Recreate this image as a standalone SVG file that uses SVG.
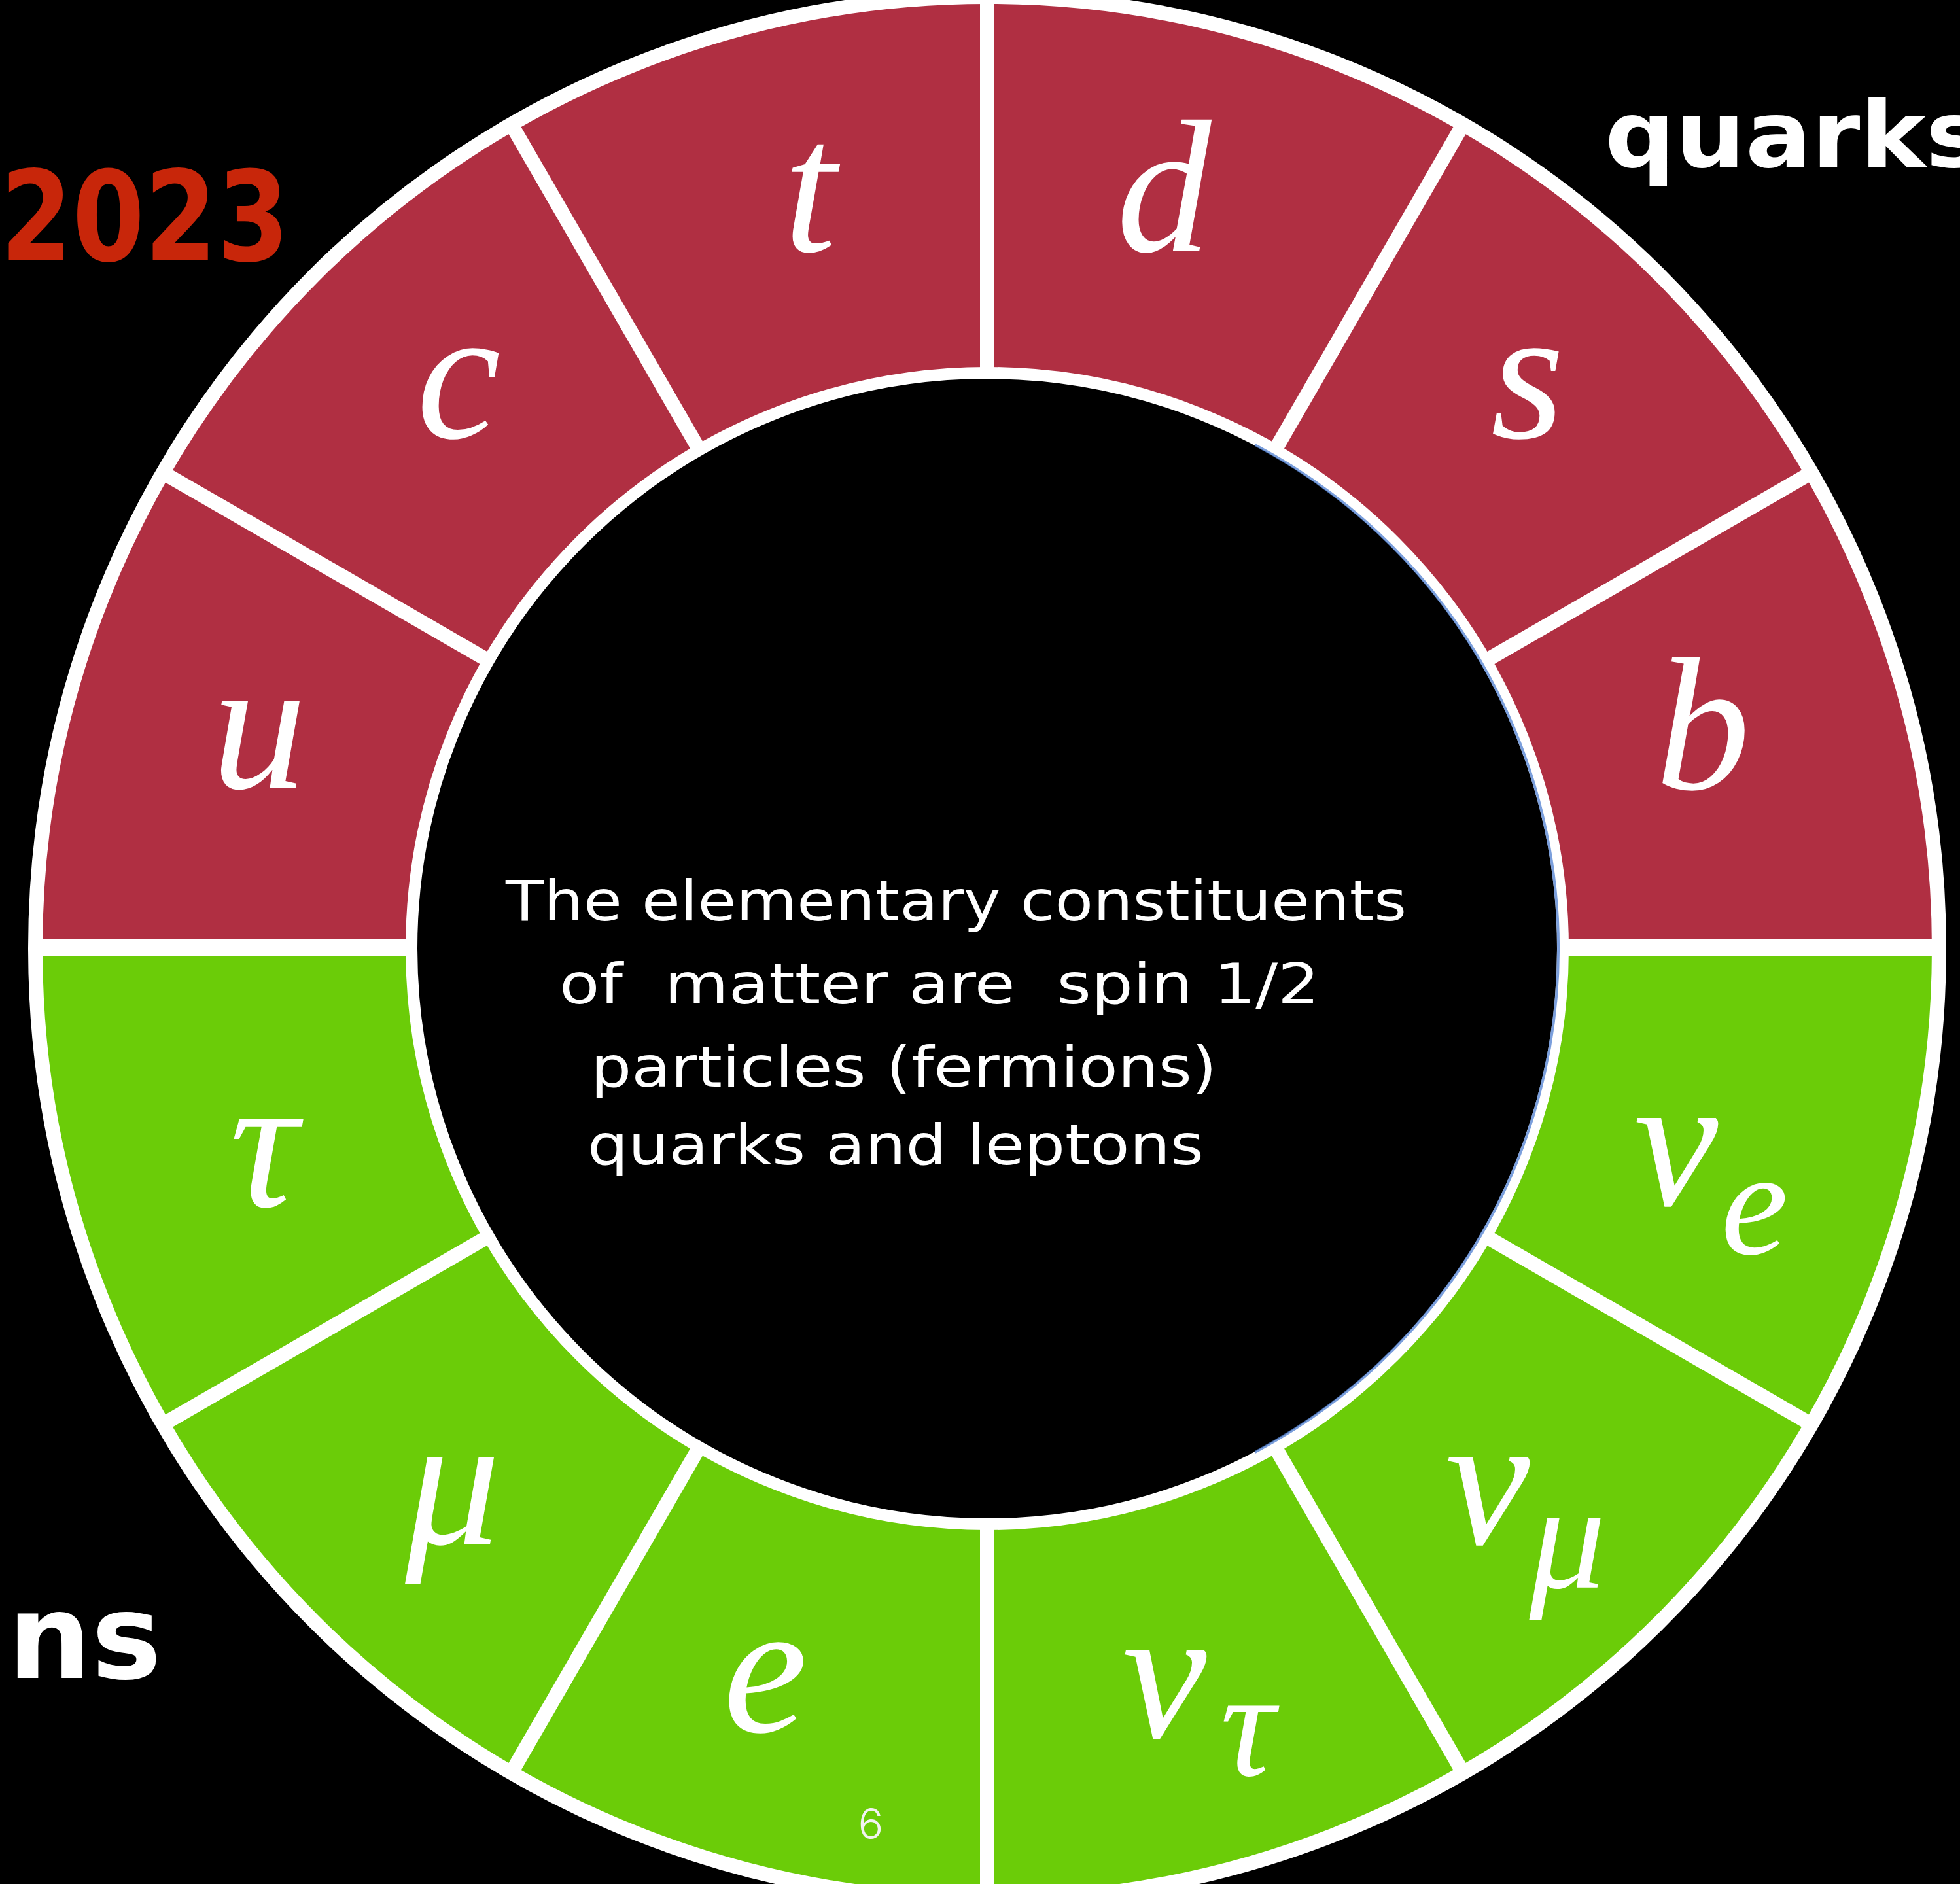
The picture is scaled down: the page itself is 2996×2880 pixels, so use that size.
<svg xmlns="http://www.w3.org/2000/svg" width="2996" height="2880" viewBox="0 0 2996 2880">
  <style>
    .red { fill: #B02F42; }
    .green { fill: #6BCC08; }
    .lbl { font-family: "Liberation Serif", "Times New Roman", serif; font-style: italic; font-size: 290px; fill: #FFFFFF; text-anchor: middle; }
    .sub { font-size: 232px; }
    .div { stroke: #FFFFFF; stroke-width: 22; fill: none; }
    .chalk { font-family: "DejaVu Sans", "Liberation Sans", sans-serif; fill: #FFFFFF; }
    .body { font-size: 86px; }
    .big { font-weight: bold; }
  </style>
  <rect x="0" y="0" width="2996" height="2880" fill="#000000"/>

  <!-- quark segments (red) -->
  <g id="seg-b"><path class="red" d="M2964,1450 A1455,1455 0 0 0 2769.07,722.5 L2271.97,1009.5 A881,881 0 0 1 2390,1450 Z"/><text class="lbl" x="2603" y="1206">b</text></g>
  <g id="seg-s"><path class="red" d="M2769.07,722.5 A1455,1455 0 0 0 2236.5,189.93 L1949.5,687.03 A881,881 0 0 1 2271.97,1009.5 Z"/><text class="lbl" x="2335" y="669">s</text></g>
  <g id="seg-d"><path class="red" d="M2236.5,189.93 A1455,1455 0 0 0 1509,-5 L1509,569 A881,881 0 0 1 1949.5,687.03 Z"/><text class="lbl" x="1779" y="384">d</text></g>
  <g id="seg-t"><path class="red" d="M1509,-5 A1455,1455 0 0 0 781.5,189.93 L1068.5,687.03 A881,881 0 0 1 1509,569 Z"/><text class="lbl" x="1238" y="384">t</text></g>
  <g id="seg-c"><path class="red" d="M781.5,189.93 A1455,1455 0 0 0 248.93,722.5 L746.03,1009.5 A881,881 0 0 1 1068.5,687.03 Z"/><text class="lbl" x="701" y="669">c</text></g>
  <g id="seg-u"><path class="red" d="M248.93,722.5 A1455,1455 0 0 0 54,1450 L628,1450 A881,881 0 0 1 746.03,1009.5 Z"/><text class="lbl" x="396" y="1204">u</text></g>

  <!-- lepton segments (green) -->
  <g id="seg-tau"><path class="green" d="M54,1450 A1455,1455 0 0 0 248.93,2177.5 L746.03,1890.5 A881,881 0 0 1 628,1450 Z"/><text class="lbl" x="403" y="1844">τ</text></g>
  <g id="seg-mu"><path class="green" d="M248.93,2177.5 A1455,1455 0 0 0 781.5,2710.07 L1068.5,2212.97 A881,881 0 0 1 746.03,1890.5 Z"/><text class="lbl" x="692" y="2360">μ</text></g>
  <g id="seg-e"><path class="green" d="M781.5,2710.07 A1455,1455 0 0 0 1509,2905 L1509,2331 A881,881 0 0 1 1068.5,2212.97 Z"/><text class="lbl" x="1170" y="2647">e</text></g>
  <g id="seg-nutau"><path class="green" d="M1509,2905 A1455,1455 0 0 0 2236.5,2710.07 L1949.5,2212.97 A881,881 0 0 1 1509,2331 Z"/><text class="lbl"><tspan x="1780" y="2656">ν</tspan><tspan class="sub" x="1907" y="2714">τ</tspan></text></g>
  <g id="seg-numu"><path class="green" d="M2236.5,2710.07 A1455,1455 0 0 0 2769.07,2177.5 L2271.97,1890.5 A881,881 0 0 1 1949.5,2212.97 Z"/><text class="lbl"><tspan x="2274" y="2360">ν</tspan><tspan class="sub" x="2396" y="2427">μ</tspan></text></g>
  <g id="seg-nue"><path class="green" d="M2769.07,2177.5 A1455,1455 0 0 0 2964,1450 L2390,1450 A881,881 0 0 1 2271.97,1890.5 Z"/><text class="lbl"><tspan x="2562" y="1842">ν</tspan><tspan class="sub" x="2682" y="1917">e</tspan></text></g>

  <!-- dividers -->
  <g id="connectors">
    <line class="div" x1="54" y1="1448" x2="2964" y2="1448" style="stroke-width:26"/>
    <line class="div" x1="2769.07" y1="722.5" x2="248.93" y2="2177.5"/>
    <line class="div" x1="2236.5" y1="189.93" x2="781.5" y2="2710.07"/>
    <line class="div" x1="1509" y1="-5" x2="1509" y2="2905"/>
    <line class="div" x1="781.5" y1="189.93" x2="2236.5" y2="2710.07"/>
    <line class="div" x1="248.93" y1="722.5" x2="2769.07" y2="2177.5"/>
    <circle class="div" cx="1509" cy="1450" r="1455"/>
  </g>

  <!-- inner disc -->
  <g id="center">
    <circle cx="1509" cy="1450" r="880" fill="#000000" stroke="#FFFFFF" stroke-width="18"/>
    <path d="M1918.4,680.1 A871,871 0 0 1 1918.4,2219.9" fill="none" stroke="#4F7FD0" stroke-width="4" opacity="0.75"/>
    <text class="chalk body" x="773" y="1407" textLength="1377" lengthAdjust="spacingAndGlyphs">The elementary constituents</text>
    <text class="chalk body" x="855" y="1534" textLength="1162" lengthAdjust="spacingAndGlyphs" xml:space="preserve">of  matter are  spin 1/2</text>
    <text class="chalk body" x="903" y="1661" textLength="957" lengthAdjust="spacingAndGlyphs">particles (fermions)</text>
    <text class="chalk body" x="898" y="1780" textLength="942" lengthAdjust="spacingAndGlyphs">quarks and leptons</text>
  </g>

  <!-- side labels -->
  <g id="year"><text class="chalk big" x="0" y="398" font-size="190" textLength="442" lengthAdjust="spacingAndGlyphs" style="fill:#C8260A">2023</text></g>
  <g id="quarks-label"><text class="chalk big" x="2453" y="255" font-size="140" textLength="580" lengthAdjust="spacingAndGlyphs">quarks</text></g>
  <g id="leptons-label"><text class="chalk big" x="247" y="2565" font-size="180" text-anchor="end">ns</text></g>
  <g id="page"><text x="1331" y="2811" font-family="Inter, 'Liberation Sans', sans-serif" font-weight="300" font-size="64" fill="#F2F2F2" text-anchor="middle">6</text></g>
</svg>
